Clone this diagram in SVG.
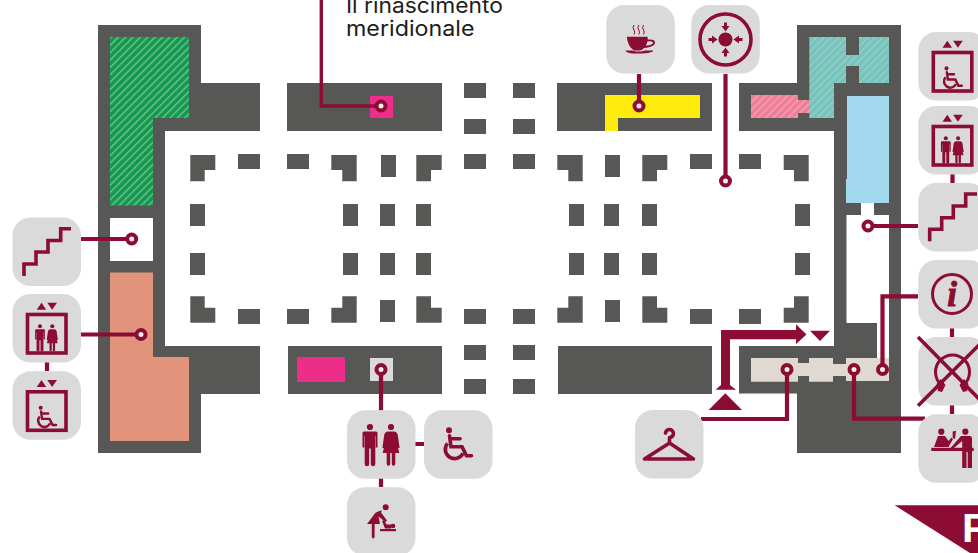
<svg xmlns="http://www.w3.org/2000/svg" xmlns:xlink="http://www.w3.org/1999/xlink" width="978" height="553" viewBox="0 0 978 553">
<style>
.w{fill:#575756}
.b{fill:#dadada}
.m{fill:#8c0c33}
.s{fill:none;stroke:#8c0c33;stroke-width:3.6}
.c{fill:none;stroke:#8c0c33;stroke-width:4.200}
.d{fill:#eeeeee;stroke:#8c0c33;stroke-width:4}
.t{font-family:"Inter","Liberation Sans",sans-serif;font-size:21px;font-weight:400;fill:#1d1d1b}
</style>
<defs>
<pattern id="hg" patternUnits="userSpaceOnUse" width="5.200" height="5.200" patternTransform="rotate(45)"><rect width="5.200" height="5.200" fill="#129a4e"/><rect width="1.400" height="5.200" fill="#72bd91"/></pattern>
<pattern id="ht" patternUnits="userSpaceOnUse" width="5.200" height="5.200" patternTransform="rotate(45)"><rect width="5.200" height="5.200" fill="#78c3bc"/><rect width="1.200" height="5.200" fill="#98d0ca"/></pattern>
<pattern id="hp" patternUnits="userSpaceOnUse" width="5.200" height="5.200" patternTransform="rotate(45)"><rect width="5.200" height="5.200" fill="#ef7f98"/><rect width="1.200" height="5.200" fill="#f3a8b8"/></pattern>
<rect id="box" class="b" width="68.5" height="68.5" rx="18"/>
<g id="man" class="m"><circle cx="0" cy="0" r="3.100"/><path d="M-7.500,6Q-7.500,4.500-6,4.500H6Q7.500,4.500 7.500,6V20.500H5.700V9H5.300V37a1.400,1.400 0 0 1-4.500,0V21.500H-.8V37a1.400,1.400 0 0 1-4.500,0V9H-5.700V20.500H-7.500Z"/></g>
<g id="woman" class="m"><circle cx="0" cy="0" r="3.100"/><path d="M-3,4.500H3Q6,4.500 6.800,8L8.600,21H6.900L4.600,10L8.300,26H4.300V37a1.500,1.500 0 0 1-3.500,0V26H-.8V37a1.500,1.500 0 0 1-3.500,0V26H-8.300L-4.600,10L-6.900,21H-8.600L-6.800,8Q-6,4.500-3,4.500Z"/></g>
<g id="chair"><circle class="m" cx="0" cy="0" r="3"/><path class="s" stroke-linecap="round" d="M.5,5.500L2,16.400H13L17.500,25.500H22.500M1.500,8.500H11"/><path class="s" d="M-1.500,13A9.300,9.300 0 1 0 14,23"/></g>
<g id="lift"><rect class="s" x="15" y="20.500" width="38.500" height="38.500"/><path class="m" d="M24.200,15.800L29,8.800L33.700,15.800ZM34.800,8.800H44.500L39.600,15.800Z"/></g>
</defs>

<g id="plan">
<path class="w" d="M98,25H201V83H260V131H165V346H260V394H201V453H98Z"/>
<path fill="url(#hg)" d="M110,37H189V118H153V205.500H110Z"/>
<rect fill="#fff" x="110" y="218" width="43" height="43"/>
<path fill="#e2937c" d="M110,272.500H153V357H189V441H110Z"/>
<rect class="w" x="287" y="83" width="155" height="48"/>
<rect fill="#ec2d89" x="370" y="96" width="23" height="22"/>
<rect class="w" x="557" y="83" width="155" height="48"/>
<path fill="#ffec0c" d="M605,95H700V118H618V131H605Z"/>
<path class="w" d="M739,83H797V25H901V453H797V393.500H739V346H834V131H739Z"/>
<path fill="url(#hp)" d="M751,95H798V100H810V113H798V118H751Z"/>
<path fill="url(#ht)" d="M809.300,37H846V55H859V37H889V83H859V66H846V83H834V118H809.300Z"/>
<path fill="#a3d9ef" d="M847,96H889V203H846V179H847Z"/>
<path fill="#fff" d="M846.500,215H861V203H874V215H889V358H877V323H846.500Z"/>
<path fill="#e0d9d1" d="M751,358H798V363H809V358H833V364H846V358H889V381H846V376H833V381.700H809V376H798V381.700H751Z"/>
<rect class="w" x="288" y="346" width="154" height="48"/>
<rect fill="#ec2d89" x="297" y="357" width="48" height="25"/>
<rect class="b" x="370" y="358" width="23" height="23"/>
<rect class="w" x="558" y="346" width="154" height="48"/>
<g class="w">
<rect x="464" y="83" width="22" height="15"/><rect x="513" y="83" width="22" height="15"/>
<rect x="464" y="119" width="22" height="15"/><rect x="513" y="119" width="22" height="15"/>
<rect x="464" y="154" width="22" height="15"/><rect x="513" y="154" width="22" height="15"/>
<rect x="464" y="309" width="22" height="15"/><rect x="513" y="309" width="22" height="15"/>
<rect x="464" y="345" width="22" height="15"/><rect x="513" y="345" width="22" height="15"/>
<rect x="464" y="379" width="22" height="15"/><rect x="513" y="379" width="22" height="15"/>
<rect x="238" y="154" width="22" height="15"/><rect x="287" y="154" width="22" height="15"/>
<rect x="690" y="154" width="22" height="15"/><rect x="739" y="154" width="22" height="15"/>
<rect x="238" y="309" width="22" height="15"/><rect x="287" y="309" width="22" height="15"/>
<rect x="690" y="309" width="22" height="15"/><rect x="739" y="309" width="22" height="15"/>
<rect x="381" y="155" width="15" height="22"/><rect x="605" y="155" width="15" height="22"/>
<rect x="380" y="300" width="15" height="22"/><rect x="605" y="300" width="15" height="22"/>
<rect x="190" y="204" width="15" height="22"/><rect x="343" y="204" width="15" height="22"/><rect x="380" y="204" width="15" height="22"/><rect x="416" y="204" width="15" height="22"/><rect x="569" y="204" width="15" height="22"/><rect x="604" y="204" width="15" height="22"/><rect x="642" y="204" width="15" height="22"/><rect x="795" y="204" width="15" height="22"/>
<rect x="190" y="253" width="15" height="22"/><rect x="343" y="253" width="15" height="22"/><rect x="380" y="253" width="15" height="22"/><rect x="416" y="253" width="15" height="22"/><rect x="569" y="253" width="15" height="22"/><rect x="604" y="253" width="15" height="22"/><rect x="642" y="253" width="15" height="22"/><rect x="795" y="253" width="15" height="22"/>
<path d="M190.300,155H215.300V170H204.700V181.300H190.300Z"/>
<path d="M331.300,155H356.700V181.300H342.300V170H331.300Z"/>
<path d="M416.300,155H441.700V170H431V181.300H416.300Z"/>
<path d="M557.300,155H582.700V181.300H568.300V170H557.300Z"/>
<path d="M642.300,155H667.300V170H657V181.300H642.300Z"/>
<path d="M783.700,155H808.700V181.300H794V170H783.700Z"/>
<path d="M190.300,296.300H204.700V307.700H215.300V322.700H190.300Z"/>
<path d="M342.300,296.300H356.700V322.700H331.300V307.700H342.300Z"/>
<path d="M416.300,296.300H431V307.700H441.700V322.700H416.300Z"/>
<path d="M568.300,296.300H582.700V322.700H557.300V307.700H568.300Z"/>
<path d="M642.300,296.300H657V307.700H667.300V322.700H642.300Z"/>
<path d="M794,296.300H808.700V322.700H783.700V307.700H794Z"/>
</g>
</g>

<g id="connectors">
<path class="c" style="stroke-width:3.400" d="M321.300,0V106H381"/>
<path class="c" d="M81,239H131.700M81,334.500H141M47,362V371M381,369.500V410.500M415,444H424M381,478V487M639,74V106M725.500,74V181M868,226H918M952.500,174V183M952,328V337M952,405V414"/>
<path class="c" d="M918,296.300H882.500V369.500M925,418.700H854V369.500M701,419H787V369.500"/>
</g>
<g id="anchors">
<circle class="d" cx="381" cy="106" r="4.500"/>
<circle class="d" cx="131.700" cy="239" r="4.500"/>
<circle class="d" cx="141" cy="334.500" r="4.500"/>
<circle class="d" cx="381" cy="369.500" r="4.500"/>
<circle class="d" cx="639" cy="106" r="4.500"/>
<circle class="d" cx="725.500" cy="181" r="4.500"/>
<circle class="d" cx="868" cy="226" r="4.500"/>
<circle class="d" cx="882.500" cy="369.500" r="4.500"/>
<circle class="d" cx="854" cy="369.500" r="4.500"/>
<circle class="d" cx="787" cy="369.500" r="4.500"/>
</g>

<g id="route" class="m">
<path d="M721,330H796V324.300L806.500,334.500L796,344V339.300H730V385L736,389.700H715.500L721,385Z"/>
<path d="M725.300,393.300L742,410H708.700Z"/>
<path d="M810,330.700H830L820,341Z"/>
</g>

<g id="label-rinascimento">
<text class="t" x="346" y="12.700" textLength="157" lengthAdjust="spacingAndGlyphs">Il rinascimento</text>
<text class="t" x="346" y="35.700" textLength="128.500" lengthAdjust="spacingAndGlyphs">meridionale</text>
</g>

<g id="stairs-left"><use href="#box" x="12.500" y="217.500"/><path class="s" d="M24,276V264H36V252H48V240.500H60.700V228.700H71"/></g>
<g id="lift-left" transform="translate(12.500,294)"><use href="#box"/><use href="#lift"/><use href="#man" transform="translate(27.500,32.300) scale(.65)"/><use href="#woman" transform="translate(39.800,32.300) scale(.65)"/></g>
<g id="lift-access-left" transform="translate(12.500,371.300)"><use href="#box"/><use href="#lift"/><use href="#chair" transform="translate(28.200,36.400) scale(.68)"/></g>
<g id="toilets" transform="translate(347,410.300)"><use href="#box"/><use href="#man" transform="translate(23,16.700)"/><use href="#woman" transform="translate(44,16.700)"/></g>
<g id="access" transform="translate(424,410.300)"><use href="#box"/><use href="#chair" transform="translate(25,20)"/></g>
<g id="baby"><use href="#box" x="347" y="487.300"/><g class="m"><circle cx="385.700" cy="507.300" r="3"/><path d="M382,510.500Q376,511.500 374.500,514L367,524H371.800V537a1.400,1.400 0 0 0 2.800,0V524H380L378.500,516.500L385.500,522L387,520.500L381,512.500Z"/><rect x="380" y="529" width="16" height="2.200"/><circle cx="393" cy="526" r="2.300"/><path d="M382,521L384,520L386.500,524.500H391V528.500H385Z"/></g></g>
<g id="coffee"><use href="#box" x="606.300" y="5"/><g class="m"><path d="M626.700,36.700H647.700V39.500H650Q655,39.500 655,42.800Q655,46 648,47.500L644,48Q642,50 640,50.500H634Q628,47 626.700,36.700ZM647.400,41.500L646,45.800Q653,44.800 653,42.800Q653,41.200 650,41.300Z"/><path d="M625.800,50.500H632L636,51.500H641L645,50.500H653V51.500Q648,53.500 643,53.500H632Q628,53 625.800,51.500Z"/></g><path d="M634,25Q632,28 634,30Q635.500,32 634,34.500M638.800,25Q636.800,28 638.800,30Q640.300,32 638.800,34.500M643.500,25Q641.500,28 643.500,30Q645,32 643.500,34.500" fill="none" stroke="#8c0c33" stroke-width="1"/></g>
<g id="meeting"><use href="#box" x="691.300" y="5"/><circle class="s" cx="725.500" cy="39.500" r="25.500"/><g class="m"><circle cx="725.500" cy="39.500" r="7"/><path d="M724,22.500H727V26H729.500L725.500,31.500L721.500,26H724ZM724,56.500H727V53H729.500L725.500,47.500L721.500,53H724ZM708.500,38H712V35.500L717.500,39.500L712,43.500V41H708.500ZM742.500,38H739V35.500L733.500,39.500L739,43.500V41H742.500Z"/></g></g>
<g id="lift-access-right" transform="translate(918.300,32)"><use href="#box"/><use href="#lift"/><use href="#chair" transform="translate(28.200,36.400) scale(.68)"/></g>
<g id="lift-right" transform="translate(918.300,106)"><use href="#box"/><use href="#lift"/><use href="#man" transform="translate(27.500,32.300) scale(.65)"/><use href="#woman" transform="translate(39.800,32.300) scale(.65)"/></g>
<g id="stairs-right"><use href="#box" x="918.300" y="183"/><path class="s" d="M929.700,241.300V229.300H941.700V217.700H953.300V206H965.700V194H977"/></g>
<g id="info"><use href="#box" x="918.300" y="260"/><circle class="s" style="stroke-width:3" cx="952" cy="294" r="19.500"/><text x="952" y="306" text-anchor="middle" font-family="'Liberation Serif',serif" font-size="35" font-weight="700" font-style="italic" fill="#8c0c33" stroke="#8c0c33" stroke-width=".9">i</text></g>
<g id="no-audio"><use href="#box" x="918.300" y="337"/><path class="s" style="stroke-width:3" d="M941,384.500A17,17 0 1 1 964,384.500"/><path class="m" d="M936.500,384L941,379L945.500,385L942,392L938,391ZM968.500,384L964,379L959.500,385L963,392L967,391Z"/><path class="s" d="M918,337L988,408M918,405.700L988,336"/></g>
<g id="desk"><use href="#box" x="918.300" y="414.300"/><g class="m"><rect x="931.300" y="447.800" width="42.400" height="3.200"/><circle cx="941.300" cy="431.700" r="3.100"/><circle cx="965.300" cy="431.700" r="3.100"/><path d="M938,436H945L948.500,441L951.500,437.500L953,439L948.500,447H934Z"/><path d="M952.700,431.500L956,430.800L955,439L952.700,438Z"/><path d="M961,436H970Q972,436 972,439V468H967.700V452H966.500V468H962.200V441L954,448H950.500Z"/></g></g>
<g id="hanger"><use href="#box" x="635" y="410"/><path class="s" stroke-linejoin="round" stroke-linecap="round" d="M665.500,433A4,4 0 1 1 669.500,437.500V442.500M669.500,443L644.500,459H693.500L669.500,443"/></g>
<g id="parking"><path class="m" d="M894.700,505.300H978V553H970Z"/><text x="962" y="542" font-family="'Liberation Sans',sans-serif" font-size="41" font-weight="700" fill="#fff">P</text></g>
</svg>
